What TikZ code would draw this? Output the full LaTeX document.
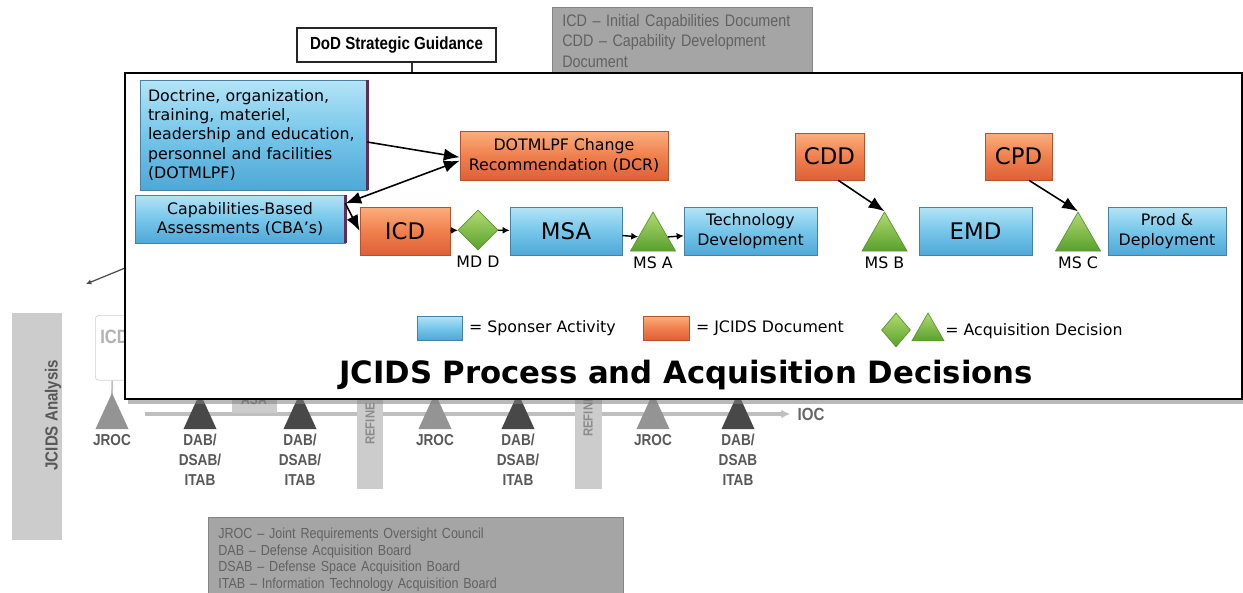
\documentclass[tikz,border=0pt]{standalone}
\usepackage{fontspec}
\setmainfont{DejaVu Sans}
\newfontfamily\narrowfont[FakeStretch=0.86]{Liberation Sans}
\usetikzlibrary{shapes.geometric, arrows.meta, positioning, calc, shadows}

\definecolor{sponsortop}{RGB}{180,228,246}
\definecolor{sponsormid}{RGB}{118,198,234}
\definecolor{sponsorbot}{RGB}{78,168,214}
\definecolor{sponsorline}{RGB}{70,130,165}
\definecolor{doctop}{RGB}{250,175,125}
\definecolor{docmid}{RGB}{240,128,78}
\definecolor{docbot}{RGB}{222,96,56}
\definecolor{docline}{RGB}{185,80,45}
\definecolor{dectop}{RGB}{178,218,112}
\definecolor{decbot}{RGB}{88,160,44}
\definecolor{decline}{RGB}{90,150,50}
\definecolor{bgtextcol}{RGB}{88,88,88}
\definecolor{bgbarcol}{RGB}{204,204,204}
\definecolor{abbrfill}{RGB}{165,165,165}
\definecolor{abbrtextcol}{RGB}{98,98,98}
\definecolor{jrocgray}{RGB}{148,148,148}
\definecolor{dabgray}{RGB}{72,72,72}
\definecolor{edgepurple}{RGB}{95,45,85}

\begin{document}
\begin{tikzpicture}[x=0.02cm, y=-0.02cm,
        sponsor/.style={rectangle, draw=sponsorline, top color=sponsortop, bottom color=sponsorbot, middle color=sponsormid, align=center, inner sep=2pt, font=\fontsize{9}{11}\selectfont},
        jcidsdoc/.style={rectangle, draw=docline, top color=doctop, bottom color=docbot, middle color=docmid, align=center, inner sep=2pt, font=\fontsize{9}{11}\selectfont},
        decision/.style={diamond, draw=decline, top color=dectop, bottom color=decbot, inner sep=0pt, minimum width=0.8cm, minimum height=0.8cm},
        milestone/.style={regular polygon, regular polygon sides=3, draw=decline, top color=dectop, bottom color=decbot, inner sep=0pt, minimum size=1.04cm},
        bigtext/.style={font=\fontsize{13}{15}\selectfont},
        mslabel/.style={font=\fontsize{9}{11}\selectfont, inner sep=1pt},
        keytext/.style={font=\fontsize{9}{11}\selectfont},
        bigarrow/.style={-{Latex[length=9pt,width=7pt]}, line width=0.9pt},
        dblarrow/.style={{Latex[length=9pt,width=7pt]}-{Latex[length=9pt,width=7pt]}, line width=0.9pt},
        smallarrow/.style={-{Latex[length=4pt,width=4pt]}, line width=0.8pt},
        bgtext/.style={font=\narrowfont\bfseries\fontsize{9}{11.3}\selectfont, text=bgtextcol, align=center, inner sep=0pt},
        abbr/.style={fill=abbrfill, draw=abbrfill!80!black, text=abbrtextcol, align=left, inner xsep=0.2cm, anchor=north west},
        panel/.style={draw=black, line width=1.2pt, fill=white, inner sep=0pt, drop shadow={shadow xshift=1.5pt, shadow yshift=-3pt, opacity=0.55}}
    ]
        \useasboundingbox (0,0) rectangle (1243,592);

        % older chart behind the panel
        \node[fill=bgbarcol, minimum width=1cm, minimum height=4.54cm, anchor=north west] (analysisbar) at (12,313) {};
        \node[bgtext, rotate=90, font=\narrowfont\bfseries\fontsize{10}{12}\selectfont] (analysis) at (53,415) {JCIDS Analysis};
        \node[abbr, text width=4.8cm, inner ysep=4pt, font=\narrowfont\fontsize{9.5}{11.6}\selectfont] (abbrtop) at (552,7) {ICD – Initial Capabilities Document\\CDD – Capability Development\\Document};
        \node[abbr, text width=7.9cm, inner ysep=6pt, font=\narrowfont\fontsize{8.3}{9.5}\selectfont] (abbrbottom) at (208,517) {JROC – Joint Requirements Oversight Council\\DAB – Defense Acquisition Board\\DSAB – Defense Space Acquisition Board\\ITAB – Information Technology Acquisition Board};
        \node[draw=black!85, line width=1.2pt, fill=white, font=\narrowfont\bfseries\fontsize{10}{12}\selectfont, minimum width=3.98cm, minimum height=0.68cm] (dod) at (396.5,45) {DoD Strategic Guidance};
        \coordinate (dodfoot) at (412,90);
        \draw[black!80, line width=0.8pt] (dod.south -| dodfoot) -- (dodfoot);

        \node[draw=black!18, fill=white, rounded corners=2pt, minimum width=0.68cm, minimum height=1.3cm, anchor=north west] (oldicd) at (95,315) {};
        \node[anchor=west, text=black!30, font=\narrowfont\bfseries\fontsize{11}{13}\selectfont, inner sep=0pt] (oldicdtxt) at (100,337) {ICD};
        \coordinate (jroc1) at (112,395);
        \draw[black!25, line width=1pt] (oldicd.south) -- (jroc1);
        \coordinate (hiddenout) at (130,266);
        \coordinate (analysisin) at (86,284);
        \draw[black!70, line width=0.7pt, -{Latex[length=3pt,width=3pt]}] (hiddenout) -- (analysisin);

        \coordinate (tstart) at (145,414);
        \node[bgtext, inner xsep=4pt, text=black!60, font=\narrowfont\bfseries\fontsize{10}{12}\selectfont] (ioc) at (811,414) {IOC};
        \draw[black!25, line width=2pt, -{Latex[length=5pt,width=5pt]}] (tstart) -- (ioc.west);

        \node[fill=bgbarcol, minimum width=0.52cm, minimum height=2.2cm, anchor=south west] (refine1) at (357,489) {};
        \node[fill=bgbarcol, minimum width=0.54cm, minimum height=2.2cm, anchor=south west] (refine2) at (575,489) {};
        \node[bgtext, rotate=90, text=black!45, font=\narrowfont\bfseries\fontsize{7.5}{9}\selectfont] (refine1txt) at (370,424) {REFINE};
        \node[bgtext, rotate=90, text=black!45, font=\narrowfont\bfseries\fontsize{7.5}{9}\selectfont] (refine2txt) at (588,416) {REFINE};
        \node[fill=bgbarcol, text=black!55, font=\narrowfont\bfseries\fontsize{8}{10}\selectfont, minimum width=0.9cm, minimum height=0.5cm] (asa) at (254,400) {ASA};

        \foreach \x/\tone in {112/jrocgray, 200/dabgray, 300/dabgray, 435/jrocgray, 518/dabgray, 653/jrocgray, 738/dabgray}
            \fill[\tone] (\x-16.5,429) -- (\x,393) -- (\x+16.5,429) -- cycle;

        \node[bgtext, anchor=north] (jroc1lbl) at (112,434) {JROC};
        \node[bgtext, anchor=north] (dab1lbl) at (200,434) {DAB/\\DSAB/\\ITAB};
        \node[bgtext, anchor=north] (dab2lbl) at (300,434) {DAB/\\DSAB/\\ITAB};
        \node[bgtext, anchor=north] (jroc2lbl) at (435,434) {JROC};
        \node[bgtext, anchor=north] (dab3lbl) at (518,434) {DAB/\\DSAB/\\ITAB};
        \node[bgtext, anchor=north] (jroc3lbl) at (653,434) {JROC};
        \node[bgtext, anchor=north] (dab4lbl) at (738,434) {DAB/\\DSAB\\ITAB};

        % JCIDS panel
        \node[panel, anchor=north west, minimum width=22.34cm, minimum height=6.52cm] (panel) at (124,72) {};

        \node[sponsor, align=left, inner xsep=0.16cm, text width=4.22cm, minimum height=2.2cm] (dotmlpf) at (253.5,135) {Doctrine, organization,\\training, materiel,\\leadership and education,\\personnel and facilities\\(DOTMLPF)};
        \node[sponsor, minimum width=4.2cm, minimum height=0.96cm] (cba) at (240,219) {Capabilities-Based\\Assessments (CBA’s)};
        \draw[edgepurple, line width=1.5pt] (dotmlpf.north east) -- (dotmlpf.south east);
        \draw[edgepurple, line width=1.5pt] (cba.north east) -- (cba.south east);
        \node[jcidsdoc, minimum width=4.16cm, minimum height=0.98cm] (dcr) at (564,155.5) {DOTMLPF Change\\Recommendation (DCR)};

        \node[jcidsdoc, bigtext, minimum width=1.8cm, minimum height=0.96cm] (icd) at (405,231) {ICD};
        \node[decision] (mdd) at (478,230) {};
        \node[sponsor, bigtext, minimum width=2.24cm, minimum height=0.96cm] (msa) at (566,231) {MSA};
        \node[milestone] (msA) at (653,238) {};
        \node[sponsor, minimum width=2.66cm, minimum height=0.96cm] (techdev) at (750.5,231) {Technology\\Development};
        \node[jcidsdoc, bigtext, minimum width=1.38cm, minimum height=0.94cm] (cdd) at (829.5,156.5) {CDD};
        \node[milestone] (msB) at (884.5,238) {};
        \node[sponsor, bigtext, minimum width=2.26cm, minimum height=0.96cm] (emd) at (975.5,231) {EMD};
        \node[jcidsdoc, bigtext, minimum width=1.34cm, minimum height=0.94cm] (cpd) at (1018.5,156.5) {CPD};
        \node[milestone] (msC) at (1078,238) {};
        \node[sponsor, minimum width=2.36cm, minimum height=0.96cm] (prod) at (1167,231) {Prod \&\\Deployment};

        \node[mslabel, below=2pt of mdd] (mddlbl) {MD D};
        \node[mslabel, below=2pt of msA] (msAlbl) {MS A};
        \node[mslabel, below=2pt of msB] (msBlbl) {MS B};
        \node[mslabel, below=2pt of msC] (msClbl) {MS C};

        \draw[bigarrow] ([yshift=-4pt]dotmlpf.east) -- ([yshift=-1pt]dcr.west);
        \draw[dblarrow] ([yshift=-3pt]dcr.west) -- ([yshift=-5pt]cba.north east);
        \draw[bigarrow] ([yshift=-5pt]cba.north east) -- (icd.west);
        \draw[smallarrow] (icd) -- (mdd);
        \draw[smallarrow] (mdd) -- (msa);
        \draw[smallarrow] (msa) -- (msA);
        \draw[smallarrow] (msA) -- (techdev);
        \draw[bigarrow] ([xshift=5pt]cdd.south) -- (msB.corner 1);
        \draw[bigarrow] ([xshift=6pt]cpd.south) -- (msC.corner 1);

        \node[sponsor, minimum width=0.9cm, minimum height=0.48cm] (keysponsor) at (440,328) {};
        \node[keytext, right=0pt of keysponsor] (keysponsortxt) {= Sponser Activity};
        \node[jcidsdoc, minimum width=0.92cm, minimum height=0.48cm] (keydoc) at (666.5,328) {};
        \node[keytext, right=0pt of keydoc] (keydoctxt) {= JCIDS Document};
        \node[decision, minimum width=0.58cm, minimum height=0.68cm] (keydiamond) at (896,330) {};
        \node[milestone, minimum size=0.74cm] (keytriangle) at (928,331.5) {};
        \node[keytext, right=0pt of keytriangle] (keydecisiontxt) {= Acquisition Decision};

        \node[font=\bfseries\fontsize{17.5}{20}\selectfont] (title) at (686,375) {JCIDS Process and Acquisition Decisions};
    \end{tikzpicture}
\end{document}
